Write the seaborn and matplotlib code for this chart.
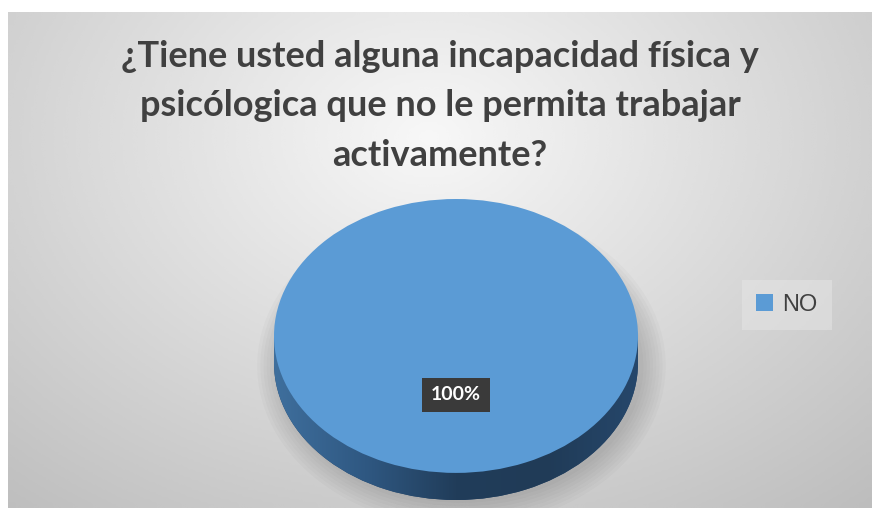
import numpy as np
import matplotlib
matplotlib.use("Agg")
import matplotlib.pyplot as plt
from matplotlib.patches import Rectangle, Ellipse
import seaborn as sns

# data
labels = ["NO"]
values = [100]
title = "¿Tiene usted alguna incapacidad física y\npsicólogica que no le permita trabajar\nactivamente?"

sns.set_theme(style="white")
plt.rcParams['font.family'] = ['Lato', 'DejaVu Sans']

top_color = "#5B9BD5"
W, H = 875, 508
fig = plt.figure(figsize=(W / 100, H / 100), dpi=100)
fig.patch.set_facecolor("white")

# background radial gradient
bg = fig.add_axes([8 / W, 0, (872 - 8) / W, (H - 12) / H])
yy, xx = np.mgrid[0:200, 0:350]
d = np.sqrt(((xx - 170) / 260.0) ** 2 + ((yy - 50) / 190.0) ** 2)
shade = np.clip(0.97 - 0.22 * d, 0.74, 0.97)
bg.imshow(shade, cmap="gray", vmin=0, vmax=1, aspect="auto", interpolation="bicubic")
bg.set_axis_off()

# pie axes: top face spans x 274..638, y 199..472 ; side down to 500
dep = 2 * 27 / 273
ax = fig.add_axes([274 / W, (H - 500) / H, 364 / W, 301 / H])
ax.set_axis_off()

# soft shadow
for k in range(8):
    ax.add_patch(Ellipse((0.03, -dep - 0.02), 2.0 + 0.035 * k, 2.0 + 0.05 * k,
                         facecolor="#000000", alpha=0.02, edgecolor="none",
                         zorder=0, clip_on=False))

# side of the disc
nolines = dict(linewidth=0, edgecolor="none")
side_w, _ = ax.pie(values, radius=1, center=(0, -dep), colors=["#26466a"],
                   startangle=90, counterclock=False, frame=True,
                   wedgeprops=dict(zorder=1, **nolines))
rect = Rectangle((-1, -dep), 2, dep, facecolor="#26466a", zorder=1, **nolines)
ax.add_patch(rect)
grad = np.linspace(0, 1, 256)
side_cmap = matplotlib.colors.LinearSegmentedColormap.from_list(
    "side", ["#3f6f9d", "#2f5882", "#213d5a", "#203b57", "#26476b"])
for patch in (side_w[0], rect):
    im = ax.imshow(grad[None, :], cmap=side_cmap, extent=(-1, 1, -1 - dep, 1),
                   aspect="auto", zorder=2)
    im.set_clip_path(patch)

# top face
wedges, _, autotexts = ax.pie(values, radius=1, colors=[top_color], startangle=90,
                              counterclock=False, autopct="%1.0f%%", pctdistance=0.43,
                              frame=True, wedgeprops=dict(zorder=3, **nolines),
                              textprops=dict(color="white", fontsize=14, fontweight="bold"))
for t in autotexts:
    t.set_zorder(5)
    t.set_bbox(dict(boxstyle="square,pad=0.45", facecolor="#3a3a3a", edgecolor="none"))

ax.set_aspect("auto")
ax.set_xlim(-1, 1)
ax.set_ylim(-1 - dep, 1)
ax.set_axis_off()

fig.text(440 / W, 1 - 106 / H, title, ha="center", va="center", fontsize=26,
         fontweight="bold", color="#404040", linespacing=1.6)

leg = fig.legend(wedges, labels, loc="center", bbox_to_anchor=(787 / W, 1 - 305 / H),
                 fontsize=17, handlelength=0.7, handleheight=0.7, handletextpad=0.4,
                 frameon=True, fancybox=False, borderpad=0.6)
leg.get_frame().set_facecolor("#e6e6e6")
leg.get_frame().set_alpha(0.5)
leg.get_frame().set_edgecolor("none")
for t in leg.get_texts():
    t.set_color("#404040")
    t.set_family(["Liberation Sans", "DejaVu Sans"])

fig.savefig("out.png", dpi=100)
